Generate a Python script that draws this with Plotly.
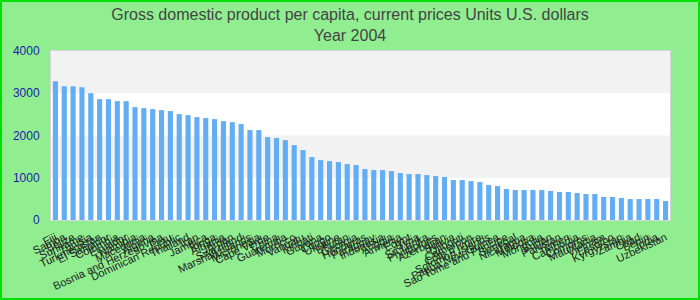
import plotly.graph_objects as go

countries = [
    "Fiji", "Samoa", "Belize", "Suriname", "Tunisia", "Turkmenistan", "El Salvador",
    "Colombia", "Ecuador", "Namibia", "Macedonia", "Algeria", "Bosnia and Herzegovina",
    "Peru", "Dominican Republic", "Thailand", "Iran", "Jamaica", "Tonga", "Albania",
    "Jordan", "Swaziland", "Marshall Islands", "Micronesia", "Cape Verde", "China",
    "Guatemala", "Morocco", "Vanuatu", "Kiribati", "Guyana", "Congo", "Ukraine",
    "Bhutan", "Georgia", "Honduras", "Paraguay", "Indonesia", "Angola", "Armenia",
    "Egypt", "Syria", "Sri Lanka", "Philippines", "Azerbaijan", "Bolivia", "Djibouti",
    "Cameroon", "Côte d'Ivoire", "Solomon Islands", "Papua New Guinea",
    "Sao Tome and Principe", "Senegal", "Nicaragua", "Moldova", "Mongolia", "Sudan",
    "Pakistan", "Yemen", "Cambodia", "Comoros", "Mauritania", "Vietnam", "Lesotho",
    "Kyrgyzstan", "Zambia", "Chad", "Benin", "India", "Uzbekistan",
]

gdp_per_capita = [
    3286, 3168, 3168, 3144, 3002, 2860, 2860, 2813, 2813, 2671, 2648, 2624, 2600,
    2577, 2506, 2482, 2435, 2411, 2388, 2340, 2317, 2270, 2128, 2128, 1962, 1939,
    1891, 1773, 1655, 1489, 1418, 1395, 1371, 1324, 1300, 1206, 1182, 1182, 1158,
    1111, 1087, 1087, 1064, 1040, 1017, 946, 946, 922, 898, 827, 804, 733, 709,
    709, 709, 709, 686, 662, 662, 638, 615, 615, 544, 544, 520, 496, 496, 496, 496,
    449,
]

y_ticks = [0, 1000, 2000, 3000, 4000]
bands = [(1000, 2000), (3000, 4000)]

fig = go.Figure(go.Bar(
    x=countries, y=gdp_per_capita,
    marker=dict(color="#63adf5", line=dict(width=0)),
))

shapes = []
for y0, y1 in bands:
    shapes.append(dict(type="rect", xref="paper", yref="y", x0=0, x1=1, y0=y0, y1=y1,
                       fillcolor="#f2f2f2", line=dict(width=0), layer="below"))
# outer green frame
W, H, L, T, R, B = 700, 300, 51, 51, 30, 80
pw, ph = W - L - R, H - T - B
shapes.append(dict(type="rect", xref="paper", yref="paper",
                   x0=(1 - L) / pw, x1=(W - 1 - L) / pw,
                   y0=(H - B - (H - 1)) / ph, y1=(H - B - 1) / ph,
                   line=dict(color="#00e000", width=2), fillcolor="rgba(0,0,0,0)"))

fig.update_layout(
    width=W, height=H,
    margin=dict(l=L, r=R, t=T, b=B, autoexpand=False),
    paper_bgcolor="#90ee90", plot_bgcolor="#ffffff",
    bargap=0.42,
    showlegend=False,
    shapes=shapes,
    title=dict(
        text="Gross domestic product per capita, current prices Units U.S. dollars<br>Year 2004",
        x=0.5, xref="container", xanchor="center",
        y=1 - 20 / H, yref="container", yanchor="middle",
        font=dict(family="Arial, Liberation Sans, sans-serif", size=16, color="#444444"),
    ),
    font=dict(family="Arial, Liberation Sans, sans-serif"),
)
fig.update_xaxes(
    type="category", tickmode="array", tickvals=countries, ticktext=countries,
    tickangle=-25, tickfont=dict(size=11, color="#222222"),
    showgrid=False, showline=True, linecolor="#d6d6d6", linewidth=1, mirror=True,
    ticks="", ticklabelstandoff=6, automargin=False, fixedrange=True,
)
fig.update_yaxes(
    range=[0, 4000], tickvals=y_ticks, tickfont=dict(size=12, color="#1c1ca8"),
    showgrid=False, zeroline=False, showline=True, linecolor="#d6d6d6", linewidth=1,
    mirror=True, ticks="", ticklabelstandoff=8, automargin=False,
)

fig.write_html("out.html")
